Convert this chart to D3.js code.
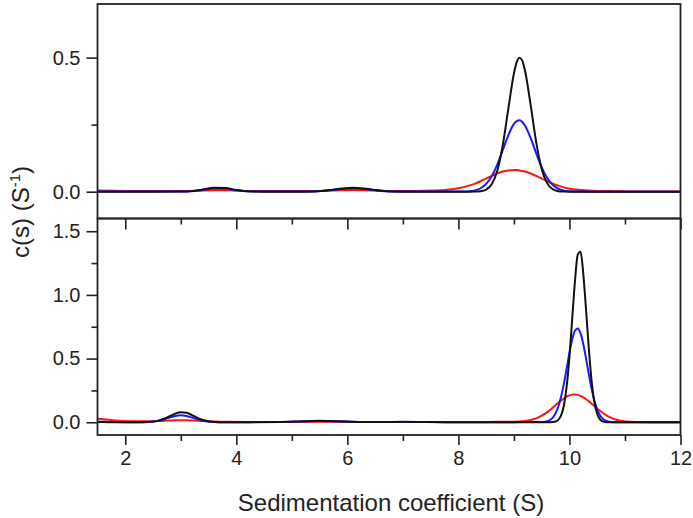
<!DOCTYPE html>
<html>
<head>
<meta charset="utf-8">
<script src="https://cdn.jsdelivr.net/npm/d3@7"></script>
<style>
  html, body { margin: 0; padding: 0; background: #fff; }
  svg { display: block; font-family: "Liberation Sans", Arial, sans-serif; }
</style>
</head>
<body>
<svg id="chart" width="693" height="518"></svg>
<script>
// ---------- data ----------
const xTicks = [2, 4, 6, 8, 10, 12];
const xMinorTicks = [3, 5, 7, 9, 11];
const yTopTicks = [0.0, 0.5];
const yTopMinor = [0.25];
const yBotTicks = [0.0, 0.5, 1.0, 1.5];
const yBotMinor = [0.25, 0.75, 1.25];

const sTop = [1.5, 2.0, 2.5, 3.0, 3.2, 3.4, 3.6, 3.8, 4.0, 4.2,
  4.5, 5.0, 5.4, 5.7, 5.9, 6.1, 6.3, 6.5, 6.8,
  7.2, 7.6, 7.8, 8.0, 8.2, 8.3, 8.4, 8.5, 8.6, 8.7,
  8.8, 8.9, 9.0, 9.05, 9.1, 9.15, 9.2, 9.3, 9.4, 9.5,
  9.6, 9.7, 9.8, 9.9, 10.0, 10.2, 10.5, 10.8, 11.2, 12.0];
const blackTop = [0, 0, 0, 0.0004, 0.0024, 0.008, 0.0143, 0.0134, 0.0066, 0.0017,
  0.0002, 0, 0.001, 0.0062, 0.012, 0.015, 0.012, 0.0062, 0.001,
  0, 0, 0, 0, 0, 0.0003, 0.0018, 0.0079, 0.0278, 0.078,
  0.174, 0.311, 0.441, 0.483, 0.5, 0.489, 0.451, 0.325, 0.186, 0.085,
  0.031, 0.009, 0.002, 0.0004, 0, 0, 0, 0, 0, 0];
const blueTop = [0.001, 0.001, 0.001, 0.0008, 0.002, 0.0065, 0.0115, 0.0107, 0.0053, 0.0014,
  0.0005, 0.0005, 0.001, 0.005, 0.0096, 0.012, 0.0096, 0.005, 0.0008,
  0.0005, 0.0005, 0.0005, 0.0006, 0.0017, 0.005, 0.0128, 0.029, 0.0576, 0.101,
  0.156, 0.211, 0.253, 0.263, 0.266, 0.26, 0.246, 0.201, 0.144, 0.091,
  0.051, 0.025, 0.011, 0.004, 0.0014, 0.0003, 0, 0, 0, 0];
const redTop = [0.004, 0.003, 0.003, 0.003, 0.003, 0.004, 0.005, 0.005, 0.004, 0.003,
  0.003, 0.003, 0.003, 0.004, 0.005, 0.006, 0.005, 0.004, 0.003,
  0.003, 0.0046, 0.0075, 0.013, 0.0235, 0.03, 0.039, 0.049, 0.059, 0.068,
  0.075, 0.079, 0.081, 0.0808, 0.079, 0.0775, 0.075, 0.068, 0.059, 0.049,
  0.039, 0.03, 0.0225, 0.016, 0.011, 0.0065, 0.003, 0.002, 0.001, 0.001];

const sBot = [1.5, 1.7, 2.0, 2.2, 2.4, 2.6, 2.7, 2.8, 2.9, 3.0,
  3.1, 3.2, 3.3, 3.4, 3.6, 3.8, 4.2, 4.8, 5.2, 5.5,
  5.8, 6.2, 6.6, 7.0, 7.4, 7.8, 8.2, 8.6, 8.8, 9.0,
  9.2, 9.4, 9.5, 9.6, 9.65, 9.7, 9.75, 9.8, 9.85, 9.9,
  9.95, 10.0, 10.05, 10.1, 10.15, 10.2, 10.25, 10.3, 10.35, 10.4,
  10.45, 10.5, 10.55, 10.6, 10.65, 10.7, 10.8, 10.9, 11.0, 11.2,
  11.5, 12.0];
const blackBot = [0.002, 0.001, 0, 0.0001, 0.0015, 0.0128, 0.0274, 0.048, 0.068, 0.079,
  0.074, 0.0565, 0.035, 0.0178, 0.0025, 0.0002, 0, 0.002, 0.008, 0.011,
  0.008, 0.003, 0.002, 0.004, 0.002, 0, 0, 0, 0, 0,
  0, 0, 0, 0, 0.0003, 0.0015, 0.0057, 0.019, 0.054, 0.132,
  0.281, 0.514, 0.814, 1.111, 1.318, 1.338, 1.161, 0.876, 0.571, 0.321,
  0.155, 0.065, 0.023, 0.007, 0.002, 0.0005, 0, 0, 0, 0,
  0, 0];
const blueBot = [0.004, 0.003, 0.001, 0.0008, 0.0025, 0.012, 0.0235, 0.0377, 0.05, 0.055,
  0.05, 0.0377, 0.0235, 0.012, 0.0025, 0.001, 0.001, 0.002, 0.006, 0.009,
  0.007, 0.003, 0.002, 0.003, 0.002, 0.001, 0.001, 0.001, 0.001, 0.001,
  0.0015, 0.002, 0.003, 0.008, 0.018, 0.037, 0.071, 0.124, 0.202, 0.303,
  0.423, 0.546, 0.651, 0.72, 0.737, 0.698, 0.612, 0.497, 0.374, 0.26,
  0.167, 0.1, 0.055, 0.028, 0.013, 0.006, 0.001, 0, 0, 0,
  0, 0];
const redBot = [0.028, 0.02, 0.01, 0.007, 0.007, 0.009, 0.011, 0.013, 0.015, 0.016,
  0.015, 0.013, 0.011, 0.009, 0.006, 0.004, 0.003, 0.003, 0.004, 0.005,
  0.004, 0.003, 0.003, 0.003, 0.003, 0.003, 0.003, 0.003, 0.0035, 0.0045,
  0.0098, 0.031, 0.052, 0.08, 0.097, 0.115, 0.134, 0.153, 0.171, 0.187,
  0.201, 0.211, 0.217, 0.218, 0.215, 0.207, 0.196, 0.181, 0.164, 0.146,
  0.127, 0.108, 0.09, 0.073, 0.058, 0.046, 0.026, 0.014, 0.0067, 0.0022,
  0.001, 0.001];

const seriesColors = { red: "#ff1414", blue: "#1a1aff", black: "#111111" };

// ---------- layout ----------
const L = 97.5, R = 680.5;
const topY0 = 4, midY = 218.5, botY1 = 435;
const svg = d3.select("#chart");
const fmt = d3.format(".1f");
const textColor = "#222";

const x = d3.scaleLinear().domain([1.5, 12]).range([L, R]);
const yTop = d3.scaleLinear().domain([-0.1, 0.7]).range([midY, topY0]);
const yBot = d3.scaleLinear().domain([-0.1, 1.6]).range([botY1, midY]);

svg.append("defs").append("clipPath").attr("id", "clipTop")
  .append("rect").attr("x", L).attr("y", topY0).attr("width", R - L).attr("height", midY - topY0);
svg.select("defs").append("clipPath").attr("id", "clipBot")
  .append("rect").attr("x", L).attr("y", midY).attr("width", R - L).attr("height", botY1 - midY);

function drawCurves(sArr, sets, yScale, clipId) {
  const g = svg.append("g").attr("clip-path", `url(#${clipId})`);
  const line = d3.line()
    .x((d, i) => x(sArr[i]))
    .y(d => yScale(d))
    .curve(d3.curveMonotoneX);
  sets.forEach(([vals, col]) => {
    g.append("path").datum(vals)
      .attr("d", line)
      .attr("fill", "none")
      .attr("stroke", col)
      .attr("stroke-width", 2)
      .attr("stroke-linejoin", "round");
  });
}

drawCurves(sTop, [[redTop, seriesColors.red], [blueTop, seriesColors.blue], [blackTop, seriesColors.black]], yTop, "clipTop");
drawCurves(sBot, [[redBot, seriesColors.red], [blueBot, seriesColors.blue], [blackBot, seriesColors.black]], yBot, "clipBot");

function styleAxis(g) {
  g.select(".domain").remove();
  g.selectAll(".tick line").attr("stroke", "#222").attr("stroke-width", 1.6);
  g.selectAll(".tick text").attr("fill", textColor)
    .style("font-family", '"Liberation Sans", Arial, sans-serif')
    .style("font-size", "20px");
}

// y axes
svg.append("g").attr("transform", `translate(${L},0)`)
  .call(d3.axisLeft(yTop).tickValues(yTopTicks).tickSize(11).tickPadding(6).tickFormat(fmt))
  .call(styleAxis);
svg.append("g").attr("transform", `translate(${L},0)`)
  .call(d3.axisLeft(yTop).tickValues(yTopMinor).tickSize(6).tickFormat(""))
  .call(styleAxis);
svg.append("g").attr("transform", `translate(${L},0)`)
  .call(d3.axisLeft(yBot).tickValues(yBotTicks).tickSize(11).tickPadding(6).tickFormat(fmt))
  .call(styleAxis);
svg.append("g").attr("transform", `translate(${L},0)`)
  .call(d3.axisLeft(yBot).tickValues(yBotMinor).tickSize(6).tickFormat(""))
  .call(styleAxis);

// x axis bottom
svg.append("g").attr("transform", `translate(0,${botY1})`)
  .call(d3.axisBottom(x).tickValues(xTicks).tickSize(10).tickPadding(6).tickFormat(d3.format("d")))
  .call(styleAxis);
svg.append("g").attr("transform", `translate(0,${botY1})`)
  .call(d3.axisBottom(x).tickValues(xMinorTicks).tickSize(6).tickFormat(""))
  .call(styleAxis);
// mirrored ticks at top of bottom panel (inward)
svg.append("g").attr("transform", `translate(0,${midY})`)
  .call(d3.axisBottom(x).tickValues(xTicks).tickSize(11).tickFormat(""))
  .call(styleAxis);
svg.append("g").attr("transform", `translate(0,${midY})`)
  .call(d3.axisBottom(x).tickValues(xMinorTicks).tickSize(6).tickFormat(""))
  .call(styleAxis);

// frames
[[topY0, midY], [midY, botY1]].forEach(([a, b]) => {
  svg.append("rect").attr("x", L).attr("y", a).attr("width", R - L).attr("height", b - a)
    .attr("fill", "none").attr("stroke", "#222").attr("stroke-width", 1.8);
});

// axis titles
svg.append("text")
  .attr("x", (L + R) / 2 + 2).attr("y", 511)
  .attr("text-anchor", "middle")
  .attr("fill", textColor)
  .style("font-size", "24px")
  .text("Sedimentation coefficient (S)");

const yt = svg.append("text")
  .attr("transform", "translate(29,212) rotate(-90)")
  .attr("text-anchor", "middle")
  .attr("fill", textColor)
  .style("font-size", "24px");
yt.append("tspan").text("c(s) (S");
yt.append("tspan").attr("dy", -9).style("font-size", "15px").text("-1");
yt.append("tspan").attr("dy", 9).text(")");
</script>
</body>
</html>
